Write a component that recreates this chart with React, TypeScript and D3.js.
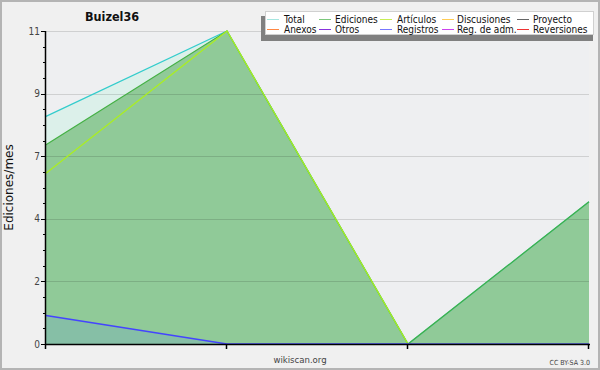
import React from "react";
import * as d3 from "d3";

const points = [0, 1, 2, 3];
const total = [8, 11, 0, 5];
const ediciones = [7, 11, 0, 5];
const articulos = [6, 11, 0, 0];
const registros = [1, 0, 0, 0];
const yTickValues = [0, 2.2, 4.4, 6.6, 8.8, 11];
const yTickLabels = ["0", "2", "4", "7", "9", "11"];
const legendRow1 = ["Total", "Ediciones", "Artículos", "Discusiones", "Proyecto"];
const legendRow2 = ["Anexos", "Otros", "Registros", "Reg. de adm.", "Reversiones"];
const legendColors1 = ["#a6e6e0", "#7cc87c", "#c8ee55", "#ffcc55", "#666666"];
const legendColors2 = ["#ff8844", "#8833dd", "#7777ff", "#cc44ee", "#ee3333"];

const W = 600, H = 370;
const left = 46, right = 589, top = 31, bottom = 344;

export default function App() {
  const x = d3.scaleLinear().domain([0, 3]).range([left, right]);
  const y = d3.scaleLinear().domain([0, 11]).range([bottom, top]);
  const area = (vals: number[]) =>
    d3.area<number>().x((_, i) => x(points[i])).y0(y(0)).y1((d) => y(d))(vals) || "";
  const line = (vals: number[]) =>
    d3.line<number>().x((_, i) => x(points[i])).y((d) => y(d))(vals) || "";
  const minor = d3.range(0, 21).map((i) => (i * 11) / 20);
  const swX = [267, 319, 380, 442, 517];
  const txX = [284, 335, 397, 457, 533];
  const font = "'DejaVu Sans Condensed', 'DejaVu Sans', sans-serif";
  return (
    <svg width={W} height={H} style={{ position: "absolute", left: 0, top: 0 }} fontFamily={font}>
      <rect x={0} y={0} width={W} height={H} fill="#f0f0f0" />
      <rect x={1} y={1} width={W - 2} height={H - 2} fill="none" stroke="#b4b4b4" strokeWidth={2} />
      <rect x={left} y={top} width={right - left} height={bottom - top} fill="#eeeff1" />
      <path d={area(total)} fill="#dcf0ea" />
      <path d={area(ediciones)} fill="#90ca98" />
      <path d={area(registros)} fill="#86bfa6" />
      {yTickValues.map((v, i) => (
        <line key={"g" + i} x1={left} x2={right} y1={Math.round(y(v)) + 0.5} y2={Math.round(y(v)) + 0.5} stroke="rgba(0,0,0,0.13)" />
      ))}
      <path d={line(total)} fill="none" stroke="#33cccc" strokeWidth={1.2} />
      <path d={line(ediciones)} fill="none" stroke="#44b044" strokeWidth={1.2} />
      <path d={line(articulos)} fill="none" stroke="#aaee22" strokeWidth={1.3} />
      <path d={line(registros)} fill="none" stroke="#4444ff" strokeWidth={1.5} />
      {/* axes */}
      <line x1={left - 0.5} x2={left - 0.5} y1={top} y2={bottom + 1} stroke="#000" strokeWidth={1.5} />
      <line x1={left} x2={right + 1} y1={bottom + 0.5} y2={bottom + 0.5} stroke="#000" strokeWidth={1.5} />
      {minor.map((v, i) => (
        <line key={"m" + i} x1={i % 4 === 0 ? 41 : 43} x2={left} y1={Math.round(y(v)) + 0.5} y2={Math.round(y(v)) + 0.5} stroke="#000" />
      ))}
      {yTickValues.map((v, i) => (
        <text key={"t" + i} x={40} y={y(v)} textAnchor="end" dominantBaseline="central" fontSize={10} fill="#444">
          {yTickLabels[i]}
        </text>
      ))}
      {points.map((p) => (
        <line key={"x" + p} x1={Math.round(x(p)) - 0.5} x2={Math.round(x(p)) - 0.5} y1={bottom} y2={bottom + 5} stroke="#000" strokeWidth={1.5} />
      ))}
      <text x={0} y={0} transform={`translate(13,${(top + bottom) / 2}) rotate(-90)`} textAnchor="middle" fontSize={12} fontFamily="'DejaVu Sans', sans-serif" fill="#111">
        Ediciones/mes
      </text>
      <text x={85} y={21} fontSize={12.5} fontWeight="bold" fill="#111">Buizel36</text>
      <text x={300} y={363} textAnchor="middle" fontSize={9.5} fill="#444">wikiscan.org</text>
      <text x={590} y={365} textAnchor="end" fontSize={7} fill="#444">CC BY-SA 3.0</text>
      {/* legend */}
      <rect x={261} y={16} width={332} height={25} fill="#808080" />
      <rect x={265.5} y={11.5} width={328} height={23} fill="#fff" stroke="#d0d0d0" />
      {legendRow1.map((t, i) => (
        <g key={"l1" + i}>
          <line x1={swX[i]} x2={swX[i] + 12} y1={19.5} y2={19.5} stroke={legendColors1[i]} />
          <text x={txX[i]} y={23} fontSize={10} fill="#111">{t}</text>
        </g>
      ))}
      {legendRow2.map((t, i) => (
        <g key={"l2" + i}>
          <line x1={swX[i]} x2={swX[i] + 12} y1={29.5} y2={29.5} stroke={legendColors2[i]} />
          <text x={txX[i]} y={33} fontSize={10} fill="#111">{t}</text>
        </g>
      ))}
    </svg>
  );
}
